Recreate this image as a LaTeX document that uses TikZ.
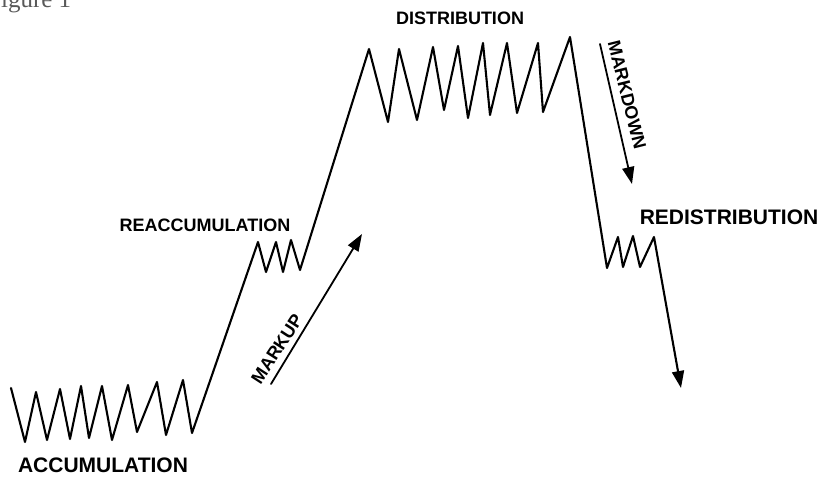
\documentclass[tikz,border=0pt]{standalone}
\usepackage{fontspec}
\newfontfamily\labelfont{Liberation Sans}
\newfontfamily\captionfont{Liberation Serif}
\usetikzlibrary{arrows.meta}

\tikzset{
  phase/.style={font=\labelfont\bfseries\fontsize{18}{20}\selectfont, inner sep=0pt},
  bigphase/.style={phase, font=\labelfont\bfseries\fontsize{21}{23}\selectfont},
  price/.style={line width=2.1pt},
  move/.style={line width=1.8pt, -{Triangle[length=17pt,width=12pt]}},
}

\begin{document}
\begin{tikzpicture}[x=1pt,y=-1pt,line join=round,line cap=round]
  \useasboundingbox (0,0) rectangle (823,479);
  \node[anchor=base west, inner sep=0pt, text=black!65, font=\captionfont\fontsize{25}{27}\selectfont] (fig) at (-13,7) {Figure 1};

  % price path through the four phases
  \draw[price,-{Triangle[length=17pt,width=12pt]}]
    (11,388) -- (25,442) -- (36,392) -- (47,440) -- (60,389) -- (70,439)
    -- (81,386) -- (89,438) -- (102,386) -- (112,440) -- (128,385) -- (137,432)
    -- (157,382) -- (166,435) -- (183,380) -- (192,433)
    -- (258,242) -- (266,272) -- (276,242) -- (283,272) -- (291,240) -- (300,270)
    -- (369,49) -- (388,122) -- (399,49) -- (417,120) -- (433,47) -- (444,110)
    -- (458,46) -- (468,118) -- (483,43) -- (490,115) -- (507,43) -- (517,113)
    -- (538,43) -- (543,112) -- (570,37)
    -- (607,268) -- (618,237) -- (623,267) -- (633,236) -- (640,267) -- (654,237)
    -- (681,388);

  \node[bigphase] (accum) at (103,465) {ACCUMULATION};
  \node[phase] (reaccum) at (205,225) {REACCUMULATION};
  \node[phase] (distrib) at (460,18) {DISTRIBUTION};
  \node[bigphase] (redistrib) at (729,217) {REDISTRIBUTION};

  % trend arrows
  \coordinate (up0) at (271,384);
  \coordinate (up1) at (362,234);
  \draw[move] (up0) -- (up1);
  \node[phase, rotate=57] (markup) at (277,349) {MARKUP};

  \coordinate (down0) at (600,44);
  \coordinate (down1) at (632,184);
  \draw[move] (down0) -- (down1);
  \node[phase, rotate=-76] (markdown) at (627,95) {MARKDOWN};
\end{tikzpicture}
\end{document}
